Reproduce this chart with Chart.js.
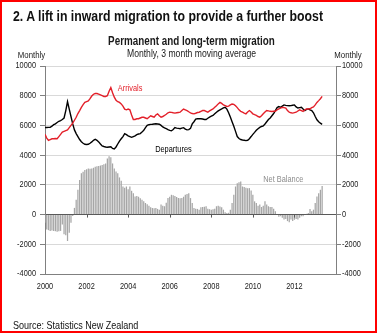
<!DOCTYPE html>
<html>
<head>
<meta charset="utf-8">
<script src="https://cdn.jsdelivr.net/npm/chart.js@4"></script>
<style>
  html, body { margin: 0; padding: 0; background: #fff; }
  body { width: 379px; height: 336px; position: relative; overflow: hidden; }
  #frame { position: absolute; left: 0; top: 0; width: 377px; height: 333px; border: 2px solid #ff0000; box-sizing: border-box; }
  .narrow { position: absolute; font-family: 'Liberation Sans', Arial, sans-serif; color: #111; white-space: nowrap; transform: scaleX(0.82); transform-origin: left center; }
  #heading { left: 13px; top: 8px; font-size: 15px; font-weight: bold; line-height: 15px; }
  #source { left: 13px; top: 320px; font-size: 11px; line-height: 11px; }
  #chartBox { position: absolute; left: 0; top: 0; width: 379px; height: 336px; }
</style>
</head>
<body>
<div id="frame"></div>
<div id="chartBox"><canvas id="migrationChart"></canvas></div>
<div id="heading" class="narrow">2. A lift in inward migration to provide a further boost</div>
<div id="source" class="narrow">Source: Statistics New Zealand</div>
<script>
// Monthly values, Jan 2000 - May 2013 (3 month moving average)
const startYear = 2000;

const arrivals = [
  5400, 5150, 5000, 5050, 5100, 5100, 5120, 5100, 5250, 5400, 5550, 5600,
  5650, 5700, 5850, 6000, 6150, 6350, 6550, 6800, 7000, 7220, 7400, 7550,
  7600, 7650, 7800, 7980, 8100, 8150, 8150, 8100, 8050, 8000, 7950, 7950,
  8000, 8300, 8550, 8200, 7900, 7700, 7600, 7550, 7450, 7300, 7100, 7050,
  7100, 7050, 6700, 6400, 6400, 6450, 6450, 6500, 6550, 6550, 6500, 6450,
  6550, 6650, 6600, 6550, 6700, 6780, 6650, 6550, 6600, 6670, 6750, 6850,
  6890, 6880, 6850, 6830, 6850, 6870, 6890, 7000, 7100, 7050, 7000, 6920,
  6850, 6800, 6780, 6820, 6870, 6890, 6950, 7000, 7000, 6950, 6890, 6980,
  7050, 7110, 7220, 7330, 7450, 7550, 7480, 7380, 7330, 7280, 7300, 7380,
  7440, 7420, 7330, 7200, 7050, 6950, 6890, 6830, 6780, 6900, 7000, 6900,
  6780, 6720, 6670, 6600, 6560, 6650, 6780, 6900, 7000, 6980, 6950, 6940,
  6950, 6950, 7050, 7110, 7170, 7220, 7200, 7170, 7000, 6890, 6850, 6830,
  6860, 6890, 6970, 7050, 7000, 6950, 7050, 7110, 7110, 7120, 7200, 7250,
  7380, 7550, 7670, 7800, 7960
];

const departures = [
  5850, 5860, 5870, 5870, 5950, 6050, 6110, 6200, 6280, 6330, 6400, 6500,
  7000, 7600, 7100, 6600, 6100, 5700, 5450, 5250, 5050, 4900, 4800, 4730,
  4720, 4730, 4800, 4890, 5000, 5070, 5000, 4890, 4750, 4620, 4580, 4550,
  4530, 4550, 4560, 4450, 4420, 4550, 4750, 4950, 5100, 5250, 5450, 5380,
  5300, 5250, 5200, 5250, 5300, 5380, 5420, 5450, 5550, 5670, 5850, 6000,
  6050, 6070, 6080, 6100, 6110, 6100, 6080, 6000, 5900, 5830, 5780, 5720,
  5670, 5640, 5720, 5850, 5820, 5800, 5780, 5820, 5850, 5750, 5700, 5720,
  5800, 6100, 6250, 6420, 6450, 6460, 6450, 6430, 6400, 6400, 6480, 6560,
  6620, 6670, 6780, 6890, 6980, 7050, 7110, 7180, 7220, 7100, 6850, 6560,
  6250, 5950, 5600, 5250, 5120, 5050, 5020, 5000, 4980, 5000, 5110, 5250,
  5400, 5530, 5670, 5780, 5870, 5930, 5970, 6100, 6250, 6400, 6500, 6650,
  6800, 7000, 7200, 7270, 7220, 7300, 7380, 7350, 7330, 7320, 7330, 7360,
  7380, 7250, 7170, 7200, 7220, 7100, 7000, 7080, 7110, 7050, 7000, 6850,
  6600, 6380, 6250, 6150, 6070
];

const netBalance = [
  -550, -1000, -1050, -1100, -1080, -1100, -1120, -1150, -1120, -1100, -670, -1330,
  -1400, -1780, -1220, -550, -100, 450, 1000, 1670, 2330, 2780, 2890, 3000,
  3050, 3100, 3080, 3100, 3150, 3220, 3250, 3270, 3300, 3330, 3380, 3440,
  3780, 3930, 3850, 3440, 3100, 2900, 2780, 2500, 2280, 1890, 1800, 1890,
  1700, 1890, 1600, 1440, 1220, 1250, 1200, 1100, 1000, 900, 780, 700,
  600, 500, 440, 420, 440, 380, 330, 670, 600, 560, 800, 1110,
  1200, 1330, 1300, 1250, 1180, 1110, 1100, 1110, 1200, 1330, 1380, 1440,
  1110, 780, 440, 400, 380, 330, 490, 510, 530, 560, 400, 360,
  330, 350, 400, 560, 600, 550, 490, 330, 160, 110, 120, 330,
  780, 1330, 1890, 2110, 2180, 2220, 1890, 1850, 1800, 1780, 1780, 1620,
  1330, 890, 780, 600, 670, 510, 600, 890, 670, 560, 510, 510,
  400, 220, 40, -150, -110, -220, -330, -290, -440, -510, -330, -440,
  -350, -290, -330, -220, -110, -110, 0, 50, 110, 380, 220, 330,
  780, 1220, 1440, 1670, 1930
];

const yearTicks = [2000, 2002, 2004, 2006, 2008, 2010, 2012];
const valueTicks = [-4000, -2000, 0, 2000, 4000, 6000, 8000, 10000];

const FONT = "'Liberation Sans', Arial, sans-serif";
const SQUEEZE = 0.82;   // narrow-face look
const RED = '#e3202a';
const BAR_GREY = '#a6a6a6';
const AXIS_GREY = '#808080';
const GRID_GREY = '#d9d9d9';
const TEXT = '#1a1a1a';

// month index -> decimal year on the x axis
const toPoints = values => values.map((v, i) => ({ x: startYear + i / 12, y: v }));

// series names written inside the plot, placed in data units
const seriesNotes = [
  { text: 'Arrivals', x: 2003.5, y: 8500, color: RED },
  { text: 'Departures', x: 2005.3, y: 4400, color: '#000' },
  { text: 'Net Balance', x: 2010.5, y: 2380, color: '#8c8c8c' }
];

function narrowText(ctx, text, x, y, align) {
  ctx.save();
  ctx.translate(x, y);
  ctx.scale(SQUEEZE, 1);
  ctx.textAlign = align;
  ctx.fillText(text, 0, 0);
  ctx.restore();
}

const chartText = {
  id: 'chartText',
  afterDatasetsDraw(chart) {
    const { ctx, scales, chartArea } = chart;
    const x = scales.x, y = scales.y;
    const zeroY = y.getPixelForValue(0);
    ctx.save();
    // small year ticks hanging off the zero line
    ctx.strokeStyle = '#595959';
    ctx.lineWidth = 1;
    x.ticks.forEach(t => {
      if (t.value === startYear) return;
      const px = Math.round(x.getPixelForValue(t.value)) + 0.5;
      ctx.beginPath();
      ctx.moveTo(px, zeroY);
      ctx.lineTo(px, zeroY + 3);
      ctx.stroke();
    });

    ctx.textBaseline = 'middle';
    ctx.font = '9px ' + FONT;
    seriesNotes.forEach(n => {
      ctx.fillStyle = n.color;
      narrowText(ctx, n.text, x.getPixelForValue(n.x), y.getPixelForValue(n.y), 'left');
    });

    // tick labels on both value axes and the year axis
    ctx.fillStyle = TEXT;
    y.ticks.forEach(t => {
      const py = y.getPixelForValue(t.value);
      narrowText(ctx, String(t.value), chartArea.left - 9, py, 'right');
      narrowText(ctx, String(t.value), chartArea.right + 6, py, 'left');
    });
    x.ticks.forEach(t => {
      narrowText(ctx, String(t.value), x.getPixelForValue(t.value), chartArea.bottom + 13, 'center');
    });
    ctx.restore();
  },
  afterDraw(chart) {
    const { ctx, chartArea } = chart;
    const mid = (chartArea.left + chartArea.right) / 2;
    ctx.save();
    ctx.fillStyle = TEXT;
    ctx.textBaseline = 'middle';
    ctx.font = 'bold 12px ' + FONT;
    narrowText(ctx, 'Permanent and long-term migration', mid + 1, 42, 'center');
    ctx.font = '10.5px ' + FONT;
    narrowText(ctx, 'Monthly, 3 month moving average', mid + 1, 54, 'center');
    ctx.font = '9.5px ' + FONT;
    narrowText(ctx, 'Monthly', 31.5, 55, 'center');
    narrowText(ctx, 'Monthly', 348, 55, 'center');
    ctx.restore();
  }
};

const valueAxis = (position, width, onChart) => ({
  type: 'linear',
  position: position,
  min: -4000,
  max: 10000,
  afterBuildTicks: s => { s.ticks = valueTicks.map(v => ({ value: v })); },
  afterFit: s => { s.width = width; },
  grid: {
    drawOnChartArea: onChart,
    color: c => (c.tick && c.tick.value === 0 ? '#595959' : GRID_GREY),
    tickColor: AXIS_GREY,
    tickLength: 5
  },
  border: { display: true, color: AXIS_GREY },
  ticks: { display: false }
});

new Chart(document.getElementById('migrationChart'), {
  type: 'bar',
  data: {
    datasets: [
      {
        type: 'line',
        label: 'Arrivals',
        data: toPoints(arrivals),
        borderColor: RED,
        borderWidth: 1.4,
        pointRadius: 0,
        tension: 0,
        order: 0
      },
      {
        type: 'line',
        label: 'Departures',
        data: toPoints(departures),
        borderColor: '#000',
        borderWidth: 1.4,
        pointRadius: 0,
        tension: 0,
        order: 0
      },
      {
        type: 'bar',
        label: 'Net Balance',
        data: toPoints(netBalance),
        backgroundColor: BAR_GREY,
        borderWidth: 0,
        categoryPercentage: 0.8,
        barPercentage: 0.9,
        order: 1
      }
    ]
  },
  options: {
    responsive: true,
    maintainAspectRatio: false,
    animation: false,
    layout: { padding: { top: 66, left: 0, right: 0, bottom: 0 } },
    plugins: {
      legend: { display: false },
      tooltip: { enabled: false },
      title: { display: false }
    },
    scales: {
      x: {
        type: 'linear',
        min: 2000,
        max: 2014,
        offset: false,
        afterBuildTicks: s => { s.ticks = yearTicks.map(v => ({ value: v })); },
        afterFit: s => { s.height = 62; },
        grid: { display: false, offset: false, drawTicks: false },
        border: { display: true, color: AXIS_GREY },
        ticks: { display: false }
      },
      y: valueAxis('left', 45, true),
      y2: valueAxis('right', 43, false)
    }
  },
  plugins: [chartText]
});
</script>
</body>
</html>
